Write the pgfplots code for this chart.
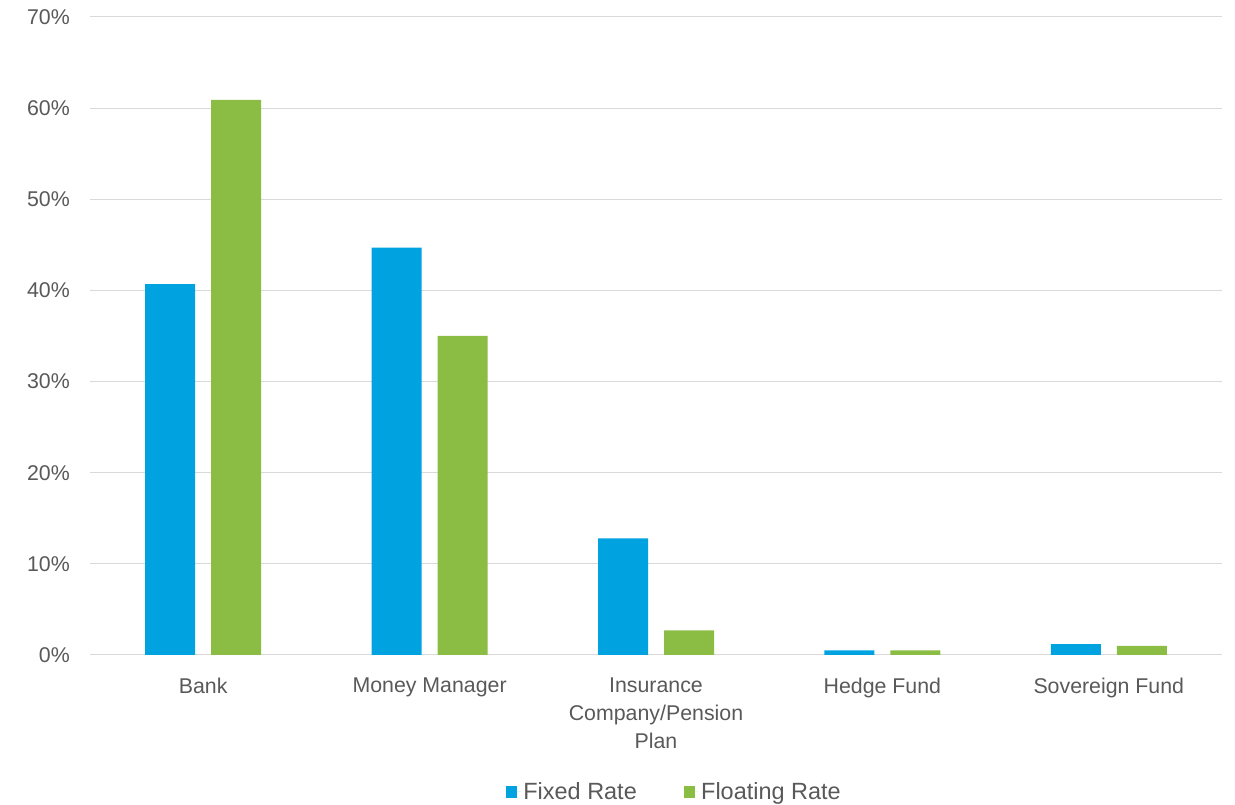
\documentclass[border=0pt]{standalone}
\usepackage{pgfplots}
\pgfplotsset{compat=1.18}
\usepackage{fontspec}
\setmainfont{Liberation Sans}
\definecolor{fixedc}{HTML}{00A3E0}
\definecolor{floatc}{HTML}{8BBD45}
\definecolor{txt}{HTML}{595959}
\definecolor{gridc}{HTML}{D9D9D9}
\begin{document}
\begin{tikzpicture}
\path[use as bounding box] (0,0) rectangle (926.25pt,603.75pt);
\begin{axis}[
  at={(67.5pt,112.5pt)}, anchor=south west,
  scale only axis, width=849pt, height=478.5pt,
  ymin=0, ymax=70, xmin=-0.5, xmax=4.5,
  ytick={0,10,...,70},
  yticklabel={\pgfmathprintnumber{\tick}\%},
  /pgf/number format/assume math mode=true,
  ymajorgrids, grid style={gridc, line width=0.75pt},
  axis line style={draw=none},
  major tick length=0pt,
  xtick={0,...,4},
  xticklabels={Bank, Money Manager, {Insurance\\Company/Pension\\Plan}, Hedge Fund, Sovereign Fund},
  tick label style={font=\fontsize{16}{20.8}\selectfont, text=txt},
  xticklabel style={align=center, anchor=north, inner sep=0pt, yshift=-17pt},
  yticklabel style={anchor=east, inner sep=0pt, xshift=-15pt},
  ybar, bar width=37.5pt,
  legend style={at={(0.5164,-0.2147)}, anchor=center, draw=none, fill=none,
    font=\fontsize{17.6}{20}\selectfont, text=txt, legend columns=2,
    /tikz/every even column/.append style={column sep=33pt}},
  legend image code/.code={\fill[#1,draw=none] (0pt,-4.375pt) rectangle (8.75pt,4.375pt);
    \path (0pt,0pt) -- (11.25pt,0pt);},
]
\addplot[fill=fixedc, draw=none, bar shift=-24.75pt] coordinates {(0,40.7) (1,44.7) (2,12.8) (3,0.5) (4,1.2)};
\addplot[fill=floatc, draw=none, bar shift=24.75pt] coordinates {(0,60.9) (1,35.0) (2,2.7) (3,0.5) (4,1.0)};
\legend{Fixed Rate, Floating Rate}
\end{axis}
\end{tikzpicture}
\end{document}
